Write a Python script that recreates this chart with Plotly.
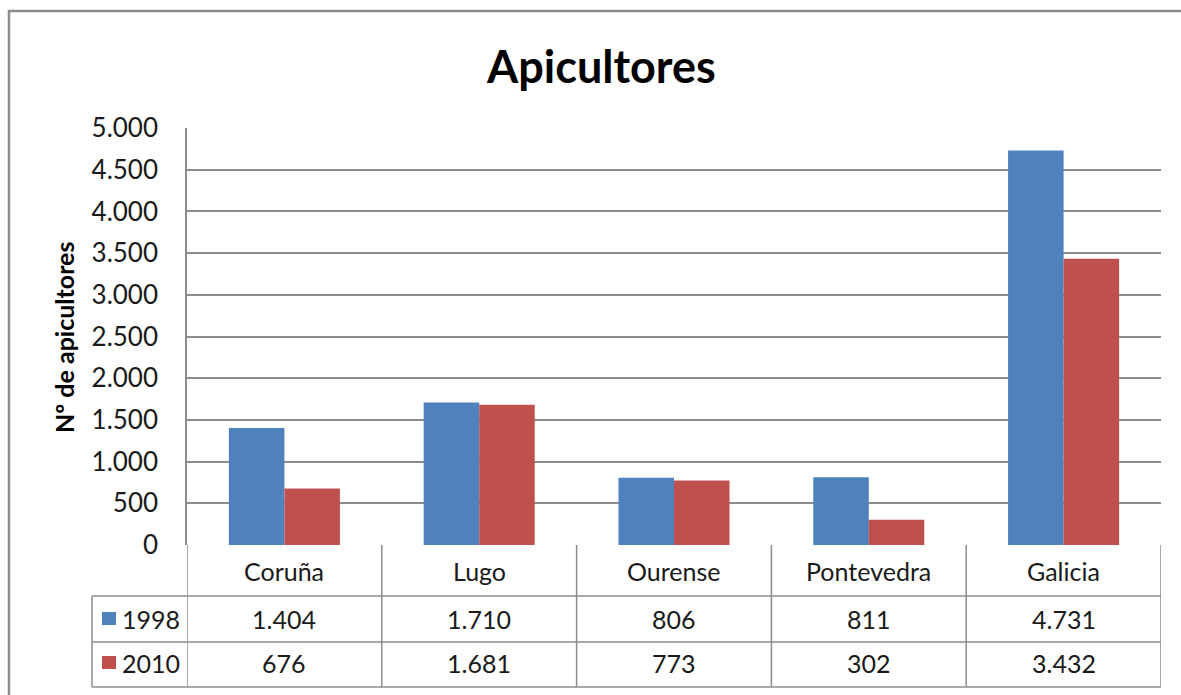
import plotly.graph_objects as go

categories = ["Coruña", "Lugo", "Ourense", "Pontevedra", "Galicia"]
series_names = ["1998", "2010"]
values_1998 = [1404, 1710, 806, 811, 4731]
values_2010 = [676, 1681, 773, 302, 3432]
colors = ["#4F81BD", "#C0504D"]
title = "Apicultores"
y_title = "Nº de apicultores"

FONT = "Lato, Noto Sans, sans-serif"
W, H = 1181, 695
L, R, T, B = 187, 20, 128, 150
PW = W - L - R
PH = H - T - B


def px_x(px):
    return (px - L) / PW


def px_y(py):
    return (H - B - py) / PH


def fmt(v):
    return f"{v:,}".replace(",", ".")


fig = go.Figure()
for name, vals, col in zip(series_names, [values_1998, values_2010], colors):
    fig.add_trace(go.Bar(x=categories, y=vals, name=name, marker_color=col,
                         marker_line_width=0, showlegend=False))

shapes = []
line = dict(color="#8C8C8C", width=1.5)
# outer chart border
shapes.append(dict(type="rect", xref="paper", yref="paper",
                   x0=px_x(9), x1=px_x(1190), y0=px_y(705), y1=px_y(11),
                   line=dict(color="#8C8C8C", width=2.5), layer="below"))
# table horizontal lines
for py, x0 in [(596, 92), (642, 92), (687, 92)]:
    shapes.append(dict(type="line", xref="paper", yref="paper",
                       x0=px_x(x0), x1=1, y0=px_y(py), y1=px_y(py), line=line))
# table vertical lines at category boundaries
n = len(categories)
for i in range(n + 1):
    shapes.append(dict(type="line", xref="x", yref="paper",
                       x0=i - 0.5, x1=i - 0.5, y0=0, y1=px_y(687), line=line))
# left legend column line
shapes.append(dict(type="line", xref="paper", yref="paper",
                   x0=px_x(92), x1=px_x(92), y0=px_y(596), y1=px_y(687), line=line))

annotations = []
row_y = [px_y(571), px_y(619), px_y(663)]
tfont = dict(family=FONT, size=25, color="#1a1a1a")
for i, c in enumerate(categories):
    annotations.append(dict(x=c, xref="x", y=row_y[0], yref="paper", text=c,
                            showarrow=False, font=tfont, xanchor="center", yanchor="middle"))
    annotations.append(dict(x=c, xref="x", y=row_y[1], yref="paper", text=fmt(values_1998[i]),
                            showarrow=False, font=tfont, xanchor="center", yanchor="middle"))
    annotations.append(dict(x=c, xref="x", y=row_y[2], yref="paper", text=fmt(values_2010[i]),
                            showarrow=False, font=tfont, xanchor="center", yanchor="middle"))
for k, (name, col) in enumerate(zip(series_names, colors)):
    cy = [619, 663][k]
    shapes.append(dict(type="rect", xref="paper", yref="paper",
                       x0=px_x(102), x1=px_x(116), y0=px_y(cy + 6), y1=px_y(cy - 7),
                       fillcolor=col, line=dict(width=0)))
    annotations.append(dict(x=px_x(120), xref="paper", y=row_y[k + 1], yref="paper", text=name,
                            showarrow=False, font=tfont, xanchor="left", yanchor="middle"))

annotations.append(dict(x=px_x(64), xref="paper", y=px_y(337), yref="paper", text=f"<b>{y_title}</b>",
                        showarrow=False, textangle=-90, font=dict(family=FONT, size=25, color="#000000"),
                        xanchor="center", yanchor="middle"))
annotations.append(dict(x=px_x(601), xref="paper", y=px_y(66), yref="paper", text=f"<b>{title}</b>",
                        showarrow=False, font=dict(family=FONT, size=45, color="#000000"),
                        xanchor="center", yanchor="middle"))

fig.update_layout(
    width=W, height=H,
    margin=dict(l=L, r=R, t=T, b=B),
    paper_bgcolor="white", plot_bgcolor="white",
    separators=",.",
    barmode="group", bargap=0.43, bargroupgap=0,
    shapes=shapes, annotations=annotations,
    xaxis=dict(showticklabels=False, showgrid=False, zeroline=False, showline=False,
               range=[-0.5, n - 0.5]),
    yaxis=dict(range=[0, 5000], dtick=500, tickformat=",d", showgrid=True, gridcolor="#8C8C8C",
               gridwidth=1.5, zeroline=False, showline=True, linecolor="#8C8C8C", linewidth=1.5,
               ticks="", ticklabelstandoff=22,
               tickfont=dict(family=FONT, size=26, color="#1a1a1a")),
)

fig.write_html("out.html", config={"displayModeBar": False},
               post_script="document.body.style.margin='0';document.body.style.overflow='hidden';")
